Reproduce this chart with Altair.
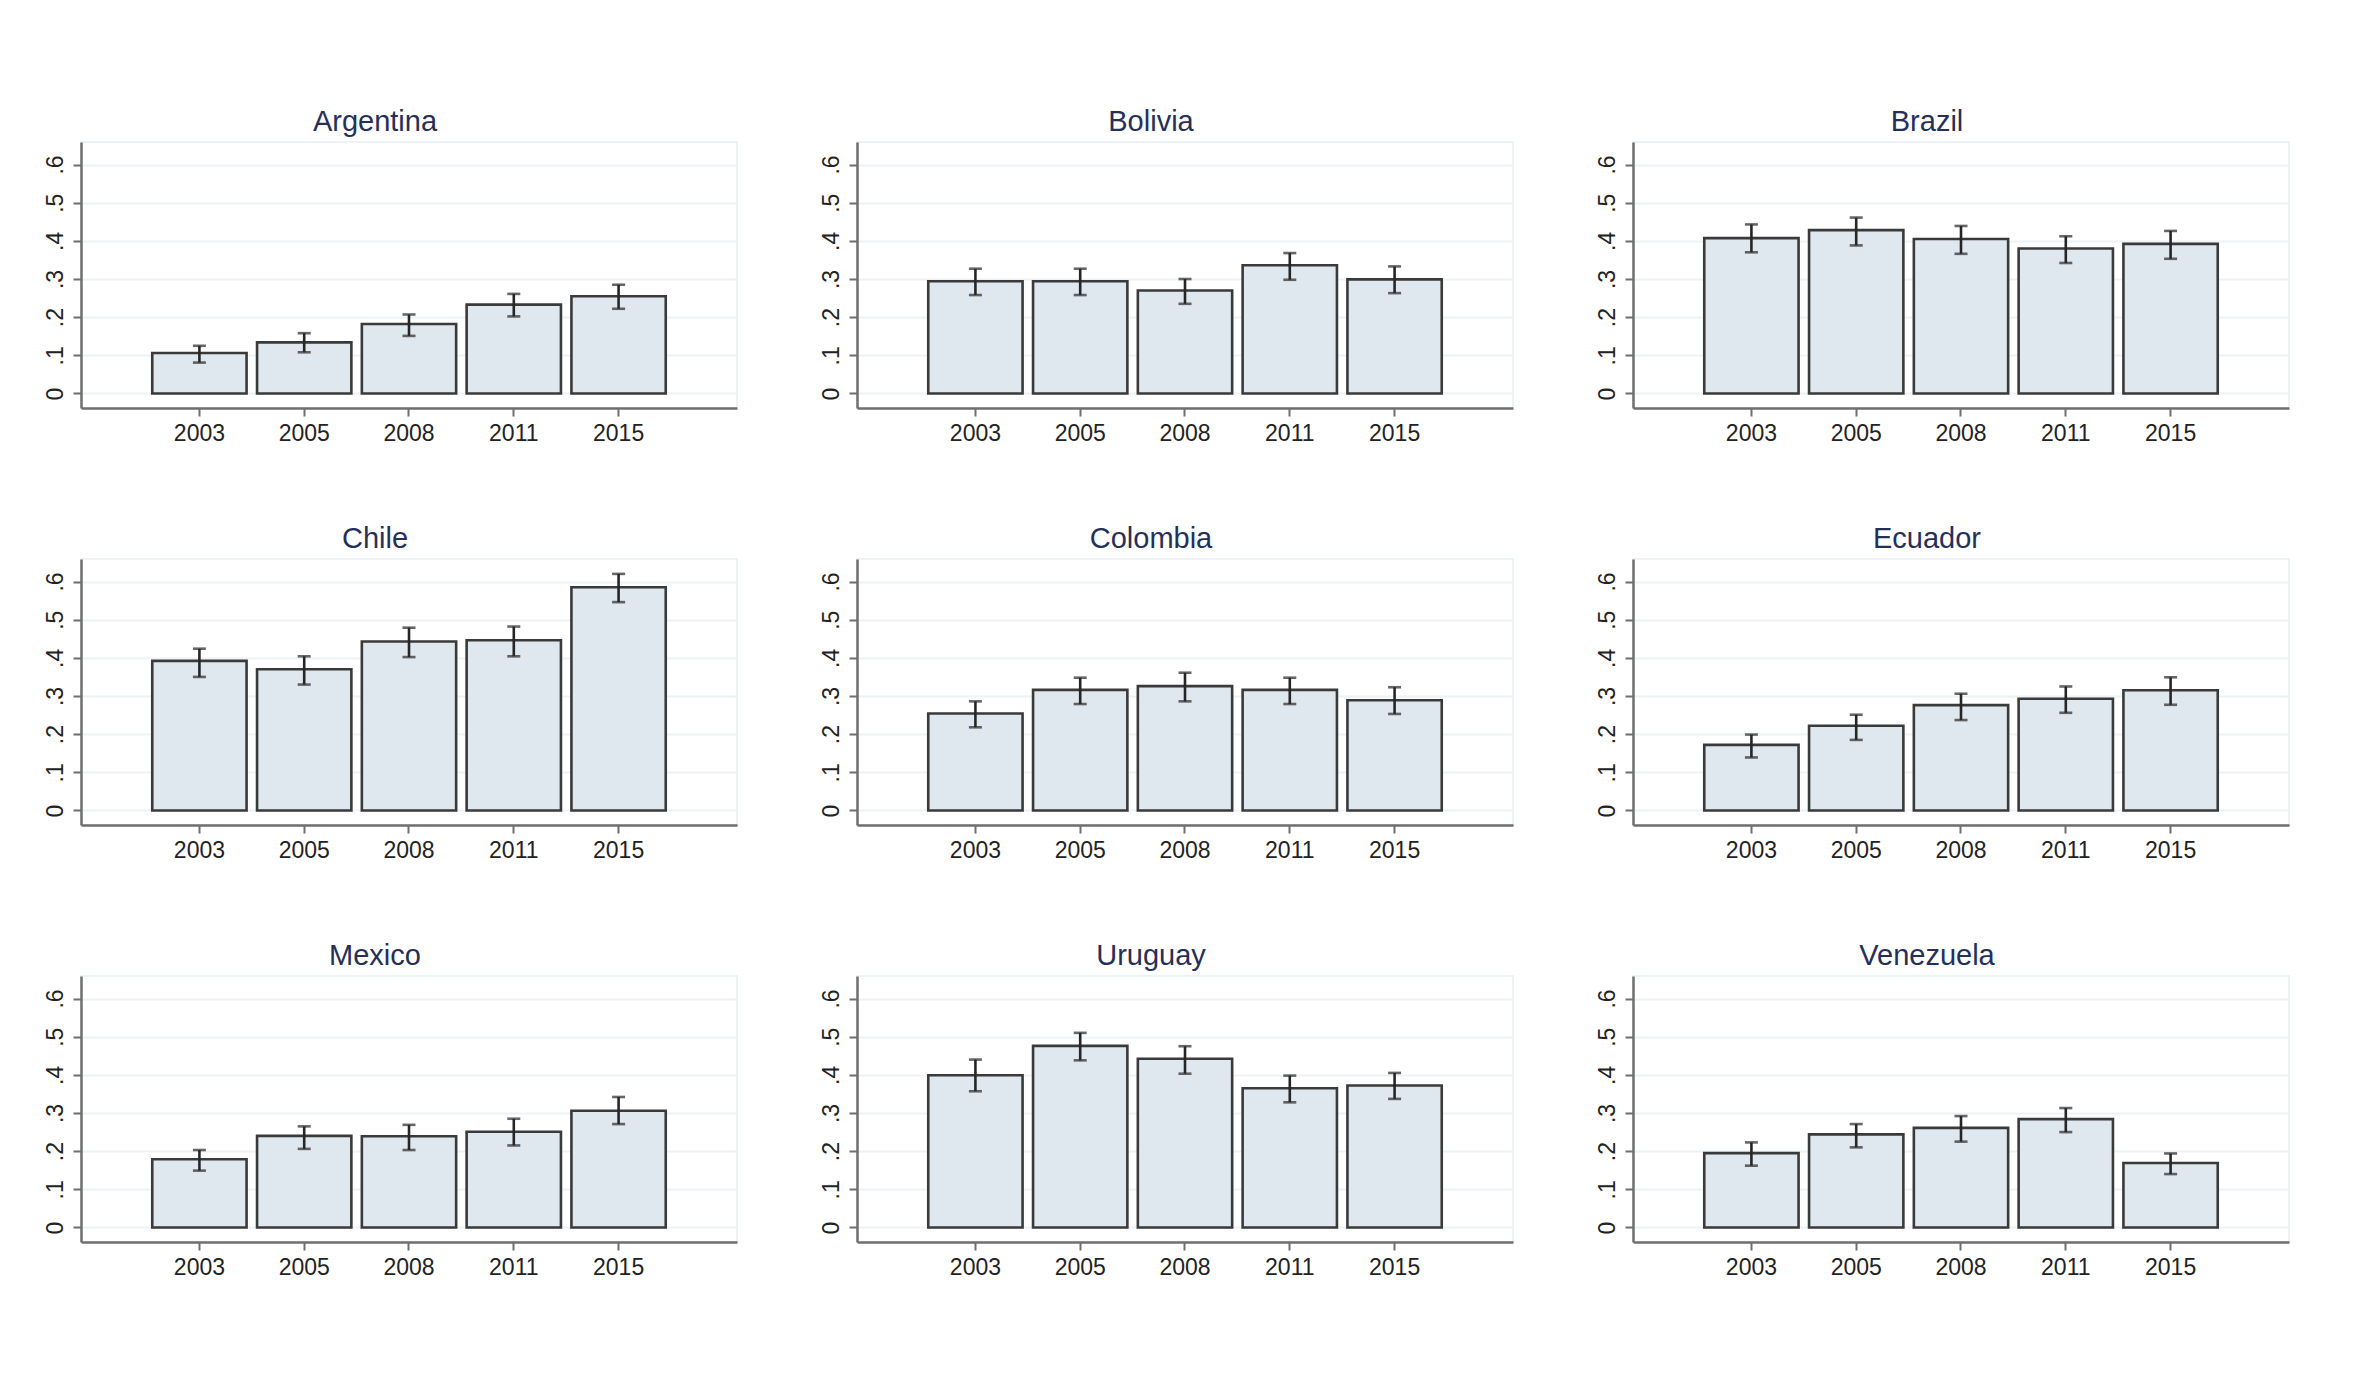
import altair as alt
import pandas as pd

years = ["2003", "2005", "2008", "2011", "2015"]
countries = ["Argentina", "Bolivia", "Brazil",
             "Chile", "Colombia", "Ecuador",
             "Mexico", "Uruguay", "Venezuela"]

argentina_mean = [0.106, 0.134, 0.182, 0.233, 0.255]
argentina_lo = [0.081, 0.108, 0.151, 0.202, 0.222]
argentina_hi = [0.125, 0.158, 0.207, 0.261, 0.285]

bolivia_mean = [0.294, 0.294, 0.270, 0.336, 0.299]
bolivia_lo = [0.258, 0.258, 0.235, 0.298, 0.263]
bolivia_hi = [0.327, 0.327, 0.300, 0.368, 0.333]

brazil_mean = [0.407, 0.428, 0.405, 0.380, 0.392]
brazil_lo = [0.370, 0.388, 0.366, 0.342, 0.353]
brazil_hi = [0.443, 0.461, 0.439, 0.412, 0.426]

chile_mean = [0.392, 0.370, 0.443, 0.446, 0.585]
chile_lo = [0.350, 0.330, 0.402, 0.404, 0.546]
chile_hi = [0.424, 0.404, 0.479, 0.482, 0.620]

colombia_mean = [0.254, 0.316, 0.326, 0.316, 0.289]
colombia_lo = [0.218, 0.279, 0.286, 0.279, 0.253]
colombia_hi = [0.286, 0.348, 0.361, 0.348, 0.323]

ecuador_mean = [0.172, 0.222, 0.276, 0.293, 0.315]
ecuador_lo = [0.139, 0.185, 0.237, 0.256, 0.277]
ecuador_hi = [0.199, 0.251, 0.306, 0.325, 0.349]

mexico_mean = [0.179, 0.240, 0.239, 0.251, 0.306]
mexico_lo = [0.149, 0.206, 0.203, 0.215, 0.271]
mexico_hi = [0.203, 0.265, 0.269, 0.285, 0.342]

uruguay_mean = [0.399, 0.476, 0.442, 0.365, 0.372]
uruguay_lo = [0.357, 0.438, 0.403, 0.328, 0.337]
uruguay_hi = [0.440, 0.510, 0.475, 0.398, 0.405]

venezuela_mean = [0.195, 0.244, 0.261, 0.284, 0.169]
venezuela_lo = [0.162, 0.210, 0.225, 0.250, 0.140]
venezuela_hi = [0.223, 0.271, 0.292, 0.313, 0.194]

series = {
    "Argentina": (argentina_mean, argentina_lo, argentina_hi),
    "Bolivia": (bolivia_mean, bolivia_lo, bolivia_hi),
    "Brazil": (brazil_mean, brazil_lo, brazil_hi),
    "Chile": (chile_mean, chile_lo, chile_hi),
    "Colombia": (colombia_mean, colombia_lo, colombia_hi),
    "Ecuador": (ecuador_mean, ecuador_lo, ecuador_hi),
    "Mexico": (mexico_mean, mexico_lo, mexico_hi),
    "Uruguay": (uruguay_mean, uruguay_lo, uruguay_hi),
    "Venezuela": (venezuela_mean, venezuela_lo, venezuela_hi),
}

rows = []
for c in countries:
    m, lo, hi = series[c]
    for i, yv in enumerate(years):
        rows.append({"country": c, "year": yv, "mean": m[i], "lo": lo[i], "hi": hi[i]})
df = pd.DataFrame(rows)

FONT = "Liberation Sans"
ERR = "#262626"


def panel(name):
    d = df[df["country"] == name]
    base = alt.Chart(d)
    x = alt.X("year:N", sort=years,
              scale=alt.Scale(paddingInner=0.1, paddingOuter=0.68),
              axis=alt.Axis(title=None, labelAngle=0, grid=False))
    yscale = alt.Scale(domain=[-0.038, 0.659], nice=False, zero=False)
    y = alt.Y("mean:Q", scale=yscale,
              axis=alt.Axis(title=None, values=[0, 0.1, 0.2, 0.3, 0.4, 0.5, 0.6],
                            labelExpr="datum.value == 0 ? '0' : replace(format(datum.value, '.1f'), '0.', '.')",
                            labelAngle=270, labelAlign="center", labelBaseline="bottom",
                            grid=True, gridColor="#edf2f5", gridWidth=2))
    bars = base.mark_bar(fill="#dfe7ef", stroke="#3a3a3a", strokeWidth=2.6).encode(
        x=x, y=y, y2=alt.datum(0))
    rule = base.mark_rule(color=ERR, strokeWidth=2.6).encode(
        x=x, y=alt.Y("lo:Q", title=None), y2="hi:Q")
    tlo = base.mark_tick(color=ERR, size=13, thickness=2.6).encode(
        x=x, y=alt.Y("lo:Q", title=None))
    thi = base.mark_tick(color=ERR, size=13, thickness=2.6).encode(
        x=x, y=alt.Y("hi:Q", title=None))
    return alt.layer(bars, rule, tlo, thi).properties(
        width=656, height=266,
        title=alt.TitleParams(name, fontSize=29, color="#25305a", font=FONT,
                              fontWeight="normal", anchor="middle", offset=5, dx=-34))


grid_rows = [alt.hconcat(*[panel(c) for c in countries[i:i + 3]], spacing=81)
             for i in (0, 3, 6)]
chart = alt.vconcat(*grid_rows, spacing=78).properties(
    padding={"top": 99, "left": 35, "right": 5, "bottom": 5},
    background="white",
).configure_view(
    stroke="#e8eef2", strokeWidth=1.5
).configure_axis(
    domainColor="#6f6f6f", domainWidth=2.5, tickColor="#6f6f6f", tickWidth=2,
    tickSize=8, labelColor="#222222", labelFontSize=23, labelFont=FONT,
    labelPadding=6
)

chart.save("out.html", embed_options={"renderer": "svg", "actions": False})
